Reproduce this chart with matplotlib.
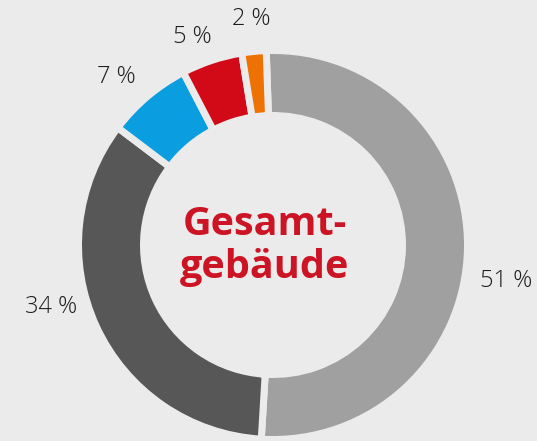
import matplotlib
matplotlib.use("Agg")
import matplotlib.pyplot as plt

# data
categories = ["A", "B", "C", "D", "E"]
shares = [51, 34, 7, 5, 2]
labels = ["51 %", "34 %", "7 %", "5 %", "2 %"]
colors = ["#a0a0a0", "#575757", "#0a9ddf", "#d20a17", "#ee7203"]
center_text = "Gesamt-\ngebäude"

BG = "#ebebeb"
W, H = 537, 441

fig = plt.figure(figsize=(W / 100, H / 100), dpi=100, facecolor=BG)
ax = fig.add_axes([0, 0, 1, 1])
ax.set_facecolor(BG)

cx, cy = 273, H - 245
R_out, R_in = 191, 133
lw_px = 7
ax.pie(shares, colors=colors, startangle=92, counterclock=False,
       center=(cx, cy), radius=R_out + lw_px / 2,
       wedgeprops=dict(width=(R_out - R_in) + lw_px, edgecolor=BG,
                       linewidth=lw_px * 0.72))
ax.set_xlim(0, W)
ax.set_ylim(0, H)
ax.set_aspect("equal")
ax.axis("off")

# label layout (pixel positions, baseline)
label_pos = [(506, 287), (51, 313), (116, 83), (192, 43), (251, 25)]
for lab, (x, y) in zip(labels, label_pos):
    ax.text(x, H - y, lab, ha="center", va="baseline", fontsize=17,
            family="Open Sans", fontweight="light", color="#1e1e1e")

ax.text(cx - 8, H - 246, center_text, ha="center", va="center",
        fontsize=28.5, family="Open Sans", fontweight="bold",
        color="#cc1424", linespacing=1.12)

fig.savefig("out.png", dpi=100, facecolor=BG)
